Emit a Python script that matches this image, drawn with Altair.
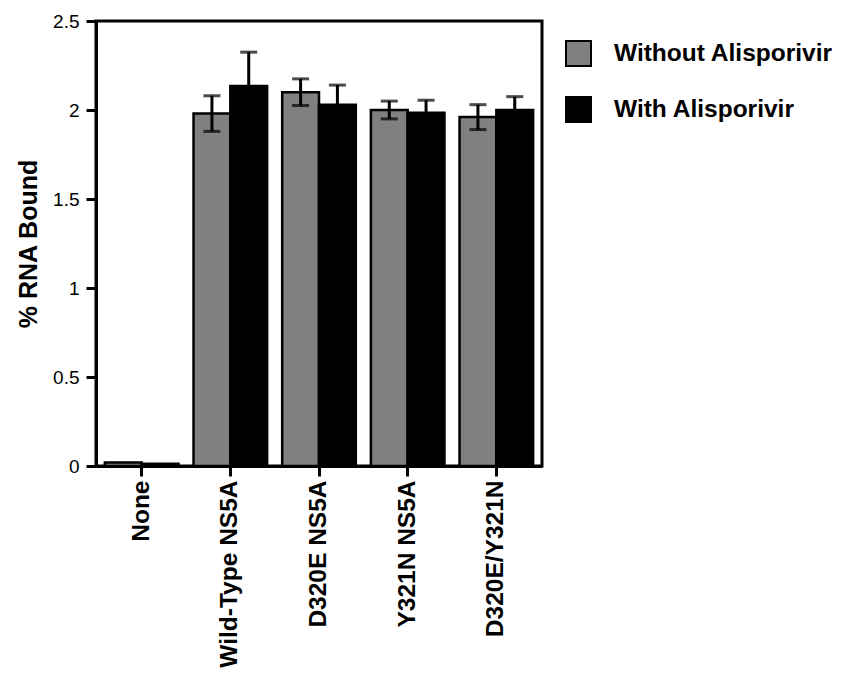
import altair as alt
import pandas as pd

categories = ["None", "Wild-Type NS5A", "D320E NS5A", "Y321N NS5A", "D320E/Y321N"]
series = ["Without Alisporivir", "With Alisporivir"]
without_vals = [0.02, 1.98, 2.10, 2.00, 1.96]
without_err = [0.0, 0.10, 0.075, 0.05, 0.07]
with_vals = [0.012, 2.135, 2.03, 1.985, 2.0]
with_err = [0.0, 0.19, 0.11, 0.07, 0.075]
colors = ["#808080", "#000000"]

rows = []
for i, c in enumerate(categories):
    rows.append({"cat": c, "series": series[0], "val": without_vals[i], "err": without_err[i]})
    rows.append({"cat": c, "series": series[1], "val": with_vals[i], "err": with_err[i]})
df = pd.DataFrame(rows)
df["lo"] = df["val"] - df["err"]
df["hi"] = df["val"] + df["err"]
df_err = df[df["err"] > 0]

FONT = "Liberation Sans"

x_enc = alt.X("cat:N", sort=categories,
              scale=alt.Scale(paddingInner=0.17, paddingOuter=0.1),
              axis=alt.Axis(title=None, labelAngle=270, labelFontSize=24.5, labelFontWeight="bold",
                            labelPadding=4, tickSize=10, labelLimit=400))
xo_enc = alt.XOffset("series:N", sort=series, scale=alt.Scale(domain=series, paddingInner=0, paddingOuter=0))
y_scale = alt.Scale(domain=[0, 2.5], nice=False)

bars = alt.Chart(df).mark_bar(stroke="black", strokeWidth=2.5).encode(
    x=x_enc,
    xOffset=xo_enc,
    y=alt.Y("val:Q", scale=y_scale,
            axis=alt.Axis(title="% RNA Bound", values=[0, 0.5, 1, 1.5, 2, 2.5], format="~g",
                          labelFontSize=19, labelPadding=7, tickSize=10,
                          titleFontSize=25, titleFontWeight="bold", titlePadding=11)),
    fill=alt.Fill("series:N", scale=alt.Scale(domain=series, range=colors),
                  legend=alt.Legend(title=None, orient="none", legendX=469, legendY=19,
                                    symbolType="square", symbolSize=625,
                                    symbolStrokeColor="black", symbolStrokeWidth=2,
                                    labelFontSize=24.5, labelFontWeight="bold", labelFont=FONT,
                                    labelLimit=500, labelOffset=22, rowPadding=23, padding=0)),
)

rules = alt.Chart(df_err).mark_rule(color="black", strokeWidth=3).encode(
    x=alt.X("cat:N", sort=categories),
    xOffset=xo_enc,
    y=alt.Y("lo:Q", scale=y_scale),
    y2="hi:Q",
)

caps_hi = alt.Chart(df_err).mark_tick(color="black", orient="horizontal", size=17, thickness=3).encode(
    x=alt.X("cat:N", sort=categories),
    xOffset=xo_enc,
    y=alt.Y("hi:Q", scale=y_scale),
)
caps_lo = alt.Chart(df_err).mark_tick(color="black", orient="horizontal", size=17, thickness=3).encode(
    x=alt.X("cat:N", sort=categories),
    xOffset=xo_enc,
    y=alt.Y("lo:Q", scale=y_scale),
)

chart = alt.layer(bars, rules, caps_hi, caps_lo).properties(
    width=446, height=445,
    autosize=alt.AutoSizeParams(type="none"),
    padding={"left": 88, "top": 13, "right": 296, "bottom": 208},
).configure_view(
    stroke="black", strokeWidth=3
).configure_axis(
    labelFont=FONT, titleFont=FONT, labelColor="black", titleColor="black",
    domainColor="black", domainWidth=3, tickColor="black", tickWidth=3, grid=False
).configure_legend(
    labelColor="black"
)

chart.save("out.html", embed_options={"renderer": "svg", "actions": False})
